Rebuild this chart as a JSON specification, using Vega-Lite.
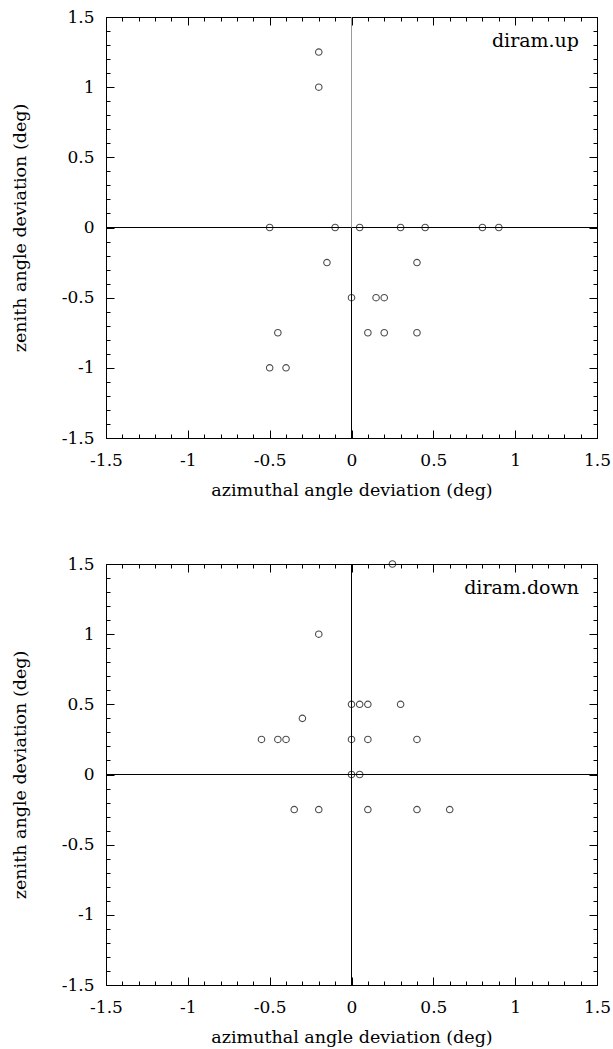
{
  "$schema": "https://vega.github.io/schema/vega-lite/v6.json",
  "padding": {"left": 10, "top": 7, "right": 5, "bottom": 5},
  "spacing": 55,
  "datasets": {
    "up": [
      {"az": -0.2, "zen": 1.25}, {"az": -0.2, "zen": 1.0},
      {"az": -0.5, "zen": 0}, {"az": -0.1, "zen": 0}, {"az": 0.05, "zen": 0}, {"az": 0.3, "zen": 0}, {"az": 0.45, "zen": 0}, {"az": 0.8, "zen": 0}, {"az": 0.9, "zen": 0},
      {"az": -0.15, "zen": -0.25}, {"az": 0.4, "zen": -0.25},
      {"az": 0.0, "zen": -0.5}, {"az": 0.15, "zen": -0.5}, {"az": 0.2, "zen": -0.5},
      {"az": -0.45, "zen": -0.75}, {"az": 0.1, "zen": -0.75}, {"az": 0.2, "zen": -0.75}, {"az": 0.4, "zen": -0.75},
      {"az": -0.5, "zen": -1.0}, {"az": -0.4, "zen": -1.0}
    ],
    "down": [
      {"az": 0.25, "zen": 1.5}, {"az": -0.2, "zen": 1.0},
      {"az": 0.0, "zen": 0.5}, {"az": 0.05, "zen": 0.5}, {"az": 0.1, "zen": 0.5}, {"az": 0.3, "zen": 0.5},
      {"az": -0.3, "zen": 0.4},
      {"az": -0.55, "zen": 0.25}, {"az": -0.45, "zen": 0.25}, {"az": -0.4, "zen": 0.25}, {"az": 0.0, "zen": 0.25}, {"az": 0.1, "zen": 0.25}, {"az": 0.4, "zen": 0.25},
      {"az": 0.0, "zen": 0}, {"az": 0.05, "zen": 0},
      {"az": -0.35, "zen": -0.25}, {"az": -0.2, "zen": -0.25}, {"az": 0.1, "zen": -0.25}, {"az": 0.4, "zen": -0.25}, {"az": 0.6, "zen": -0.25}
    ],
    "one": [{"k": 1}]
  },
  "vconcat": [
    {
      "width": 491, "height": 421,
      "data": {"name": "up"},
      "layer": [
        {
          "data": {"name": "one"},
          "mark": {"type": "rule", "color": "black", "strokeWidth": 1},
          "encoding": {
            "x": {"datum": -1.5, "type": "quantitative", "scale": {"domain": [-1.5, 1.5], "nice": false, "zero": false}, "axis": null},
            "x2": {"datum": 1.5},
            "y": {"datum": 0, "type": "quantitative", "scale": {"domain": [-1.5, 1.5], "nice": false, "zero": false}, "axis": null}
          }
        },
        {
          "data": {"name": "one"},
          "mark": {"type": "rule", "color": "black", "strokeWidth": 1},
          "encoding": {
            "x": {"datum": 0, "type": "quantitative", "scale": {"domain": [-1.5, 1.5], "nice": false, "zero": false}, "axis": null},
            "y": {"datum": -1.5, "type": "quantitative", "scale": {"domain": [-1.5, 1.5], "nice": false, "zero": false}, "axis": null},
            "y2": {"datum": 0}
          }
        },
        {
          "data": {"name": "one"},
          "mark": {"type": "rule", "color": "#9a9a9a", "strokeWidth": 1},
          "encoding": {
            "x": {"datum": 0, "type": "quantitative", "scale": {"domain": [-1.5, 1.5], "nice": false, "zero": false}, "axis": null},
            "y": {"datum": 0, "type": "quantitative", "scale": {"domain": [-1.5, 1.5], "nice": false, "zero": false}, "axis": null},
            "y2": {"datum": 1.5}
          }
        },
        {
          "mark": {"type": "point", "opacity": 0},
          "encoding": {
            "x": {"field": "az", "type": "quantitative", "scale": {"domain": [-1.5, 1.5], "nice": false, "zero": false},
                  "axis": {"orient": "bottom", "values": [-1.4,-1.3,-1.2,-1.1,-0.9,-0.8,-0.7,-0.6,-0.4,-0.3,-0.2,-0.1,0.1,0.2,0.3,0.4,0.6,0.7,0.8,0.9,1.1,1.2,1.3,1.4], "ticks": false, "labels": false, "domain": false, "title": null, "grid": true, "gridColor": "black", "gridWidth": 1, "gridDash": [4, 413, 4, 100]}},
            "y": {"field": "zen", "type": "quantitative", "scale": {"domain": [-1.5, 1.5], "nice": false, "zero": false},
                  "axis": {"orient": "left", "values": [-1.4,-1.3,-1.2,-1.1,-0.9,-0.8,-0.7,-0.6,-0.4,-0.3,-0.2,-0.1,0.1,0.2,0.3,0.4,0.6,0.7,0.8,0.9,1.1,1.2,1.3,1.4], "ticks": false, "labels": false, "domain": false, "title": null, "grid": true, "gridColor": "black", "gridWidth": 1, "gridDash": [4, 483, 4, 100]}}
          }
        },
        {
          "mark": {"type": "point", "shape": "circle", "filled": false, "stroke": "black", "strokeWidth": 1.1, "size": 42, "clip": false},
          "encoding": {
            "x": {"field": "az", "type": "quantitative", "scale": {"domain": [-1.5, 1.5], "nice": false, "zero": false},
                  "axis": {"orient": "bottom", "values": [-1.5,-1,-0.5,0,0.5,1,1.5], "ticks": false, "tickSize": 0, "labelPadding": 14, "labelExpr": "'' + datum.value", "title": "azimuthal angle deviation (deg)", "titlePadding": 13, "grid": true, "gridColor": "black", "gridWidth": 1, "gridDash": [8, 405, 8, 100]}},
            "y": {"field": "zen", "type": "quantitative", "scale": {"domain": [-1.5, 1.5], "nice": false, "zero": false},
                  "axis": {"orient": "left", "values": [-1.5,-1,-0.5,0,0.5,1,1.5], "ticks": false, "tickSize": 0, "labelPadding": 12, "labelExpr": "'' + datum.value", "title": "zenith angle deviation (deg)", "titlePadding": 32, "grid": true, "gridColor": "black", "gridWidth": 1, "gridDash": [8, 475, 8, 100]}}
          }
        },
        {
          "data": {"name": "one"},
          "mark": {"type": "text", "align": "right", "baseline": "middle", "font": "DejaVu Serif", "fontSize": 19, "color": "black"},
          "encoding": {
            "x": {"datum": 1.39, "type": "quantitative", "scale": {"domain": [-1.5, 1.5], "nice": false, "zero": false}, "axis": null},
            "y": {"datum": 1.33, "type": "quantitative", "scale": {"domain": [-1.5, 1.5], "nice": false, "zero": false}, "axis": null},
            "text": {"value": "diram.up"}
          }
        }
      ],
      "resolve": {"axis": {"x": "independent", "y": "independent"}}
    },
    {
      "width": 491, "height": 421,
      "data": {"name": "down"},
      "layer": [
        {
          "data": {"name": "one"},
          "mark": {"type": "rule", "color": "black", "strokeWidth": 1},
          "encoding": {
            "x": {"datum": -1.5, "type": "quantitative", "scale": {"domain": [-1.5, 1.5], "nice": false, "zero": false}, "axis": null},
            "x2": {"datum": 1.5},
            "y": {"datum": 0, "type": "quantitative", "scale": {"domain": [-1.5, 1.5], "nice": false, "zero": false}, "axis": null}
          }
        },
        {
          "data": {"name": "one"},
          "mark": {"type": "rule", "color": "black", "strokeWidth": 1},
          "encoding": {
            "x": {"datum": 0, "type": "quantitative", "scale": {"domain": [-1.5, 1.5], "nice": false, "zero": false}, "axis": null},
            "y": {"datum": -1.5, "type": "quantitative", "scale": {"domain": [-1.5, 1.5], "nice": false, "zero": false}, "axis": null},
            "y2": {"datum": 1.5}
          }
        },
        {
          "mark": {"type": "point", "opacity": 0},
          "encoding": {
            "x": {"field": "az", "type": "quantitative", "scale": {"domain": [-1.5, 1.5], "nice": false, "zero": false},
                  "axis": {"orient": "bottom", "values": [-1.4,-1.3,-1.2,-1.1,-0.9,-0.8,-0.7,-0.6,-0.4,-0.3,-0.2,-0.1,0.1,0.2,0.3,0.4,0.6,0.7,0.8,0.9,1.1,1.2,1.3,1.4], "ticks": false, "labels": false, "domain": false, "title": null, "grid": true, "gridColor": "black", "gridWidth": 1, "gridDash": [4, 413, 4, 100]}},
            "y": {"field": "zen", "type": "quantitative", "scale": {"domain": [-1.5, 1.5], "nice": false, "zero": false},
                  "axis": {"orient": "left", "values": [-1.4,-1.3,-1.2,-1.1,-0.9,-0.8,-0.7,-0.6,-0.4,-0.3,-0.2,-0.1,0.1,0.2,0.3,0.4,0.6,0.7,0.8,0.9,1.1,1.2,1.3,1.4], "ticks": false, "labels": false, "domain": false, "title": null, "grid": true, "gridColor": "black", "gridWidth": 1, "gridDash": [4, 483, 4, 100]}}
          }
        },
        {
          "mark": {"type": "point", "shape": "circle", "filled": false, "stroke": "black", "strokeWidth": 1.1, "size": 42, "clip": false},
          "encoding": {
            "x": {"field": "az", "type": "quantitative", "scale": {"domain": [-1.5, 1.5], "nice": false, "zero": false},
                  "axis": {"orient": "bottom", "values": [-1.5,-1,-0.5,0,0.5,1,1.5], "ticks": false, "tickSize": 0, "labelPadding": 14, "labelExpr": "'' + datum.value", "title": "azimuthal angle deviation (deg)", "titlePadding": 13, "grid": true, "gridColor": "black", "gridWidth": 1, "gridDash": [8, 405, 8, 100]}},
            "y": {"field": "zen", "type": "quantitative", "scale": {"domain": [-1.5, 1.5], "nice": false, "zero": false},
                  "axis": {"orient": "left", "values": [-1.5,-1,-0.5,0,0.5,1,1.5], "ticks": false, "tickSize": 0, "labelPadding": 12, "labelExpr": "'' + datum.value", "title": "zenith angle deviation (deg)", "titlePadding": 32, "grid": true, "gridColor": "black", "gridWidth": 1, "gridDash": [8, 475, 8, 100]}}
          }
        },
        {
          "data": {"name": "one"},
          "mark": {"type": "text", "align": "right", "baseline": "middle", "font": "DejaVu Serif", "fontSize": 19, "color": "black"},
          "encoding": {
            "x": {"datum": 1.39, "type": "quantitative", "scale": {"domain": [-1.5, 1.5], "nice": false, "zero": false}, "axis": null},
            "y": {"datum": 1.33, "type": "quantitative", "scale": {"domain": [-1.5, 1.5], "nice": false, "zero": false}, "axis": null},
            "text": {"value": "diram.down"}
          }
        }
      ],
      "resolve": {"axis": {"x": "independent", "y": "independent"}}
    }
  ],
  "config": {
    "view": {"stroke": "black", "strokeWidth": 1},
    "axis": {"domainColor": "black", "domainWidth": 1, "tickColor": "black", "tickWidth": 1,
             "labelColor": "black", "titleColor": "black",
             "labelFont": "DejaVu Serif", "titleFont": "DejaVu Serif",
             "labelFontSize": 17, "titleFontSize": 17.5, "titleFontWeight": "normal", "labelFlush": false, "labelOverlap": false}
  }
}
